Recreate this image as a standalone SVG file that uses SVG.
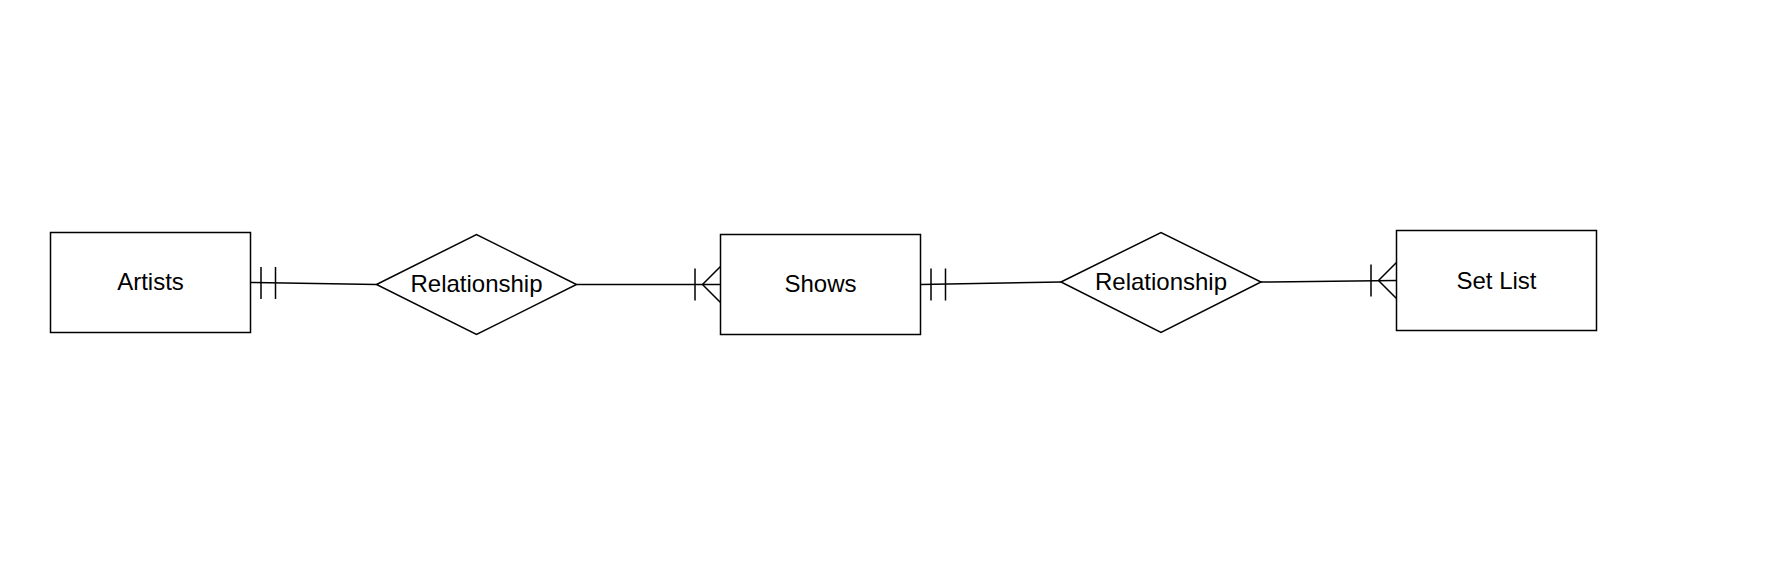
<svg xmlns="http://www.w3.org/2000/svg" width="1782" height="574" viewBox="0 0 1782 574">
<style>
.shape{fill:#fff;stroke:#000;stroke-width:1.5}
.lbl{font-family:"Liberation Sans",Arial,sans-serif;font-size:24px;fill:#000;text-anchor:middle}
.edge{fill:none;stroke:#000;stroke-width:1.5}
</style>
<rect width="1782" height="574" fill="#fff"/>
<g id="connectors">
  <!-- Artists -> Relationship 1 -->
  <path class="edge" d="M250.5 282.5 L376.5 284.5"/>
  <path class="edge" d="M261 267 V299 M275.5 267 V299"/>
  <!-- Relationship 1 -> Shows -->
  <path class="edge" d="M576.5 284.5 L720.5 284.5"/>
  <path class="edge" d="M695 268.5 V300.5 M720.5 266.5 L702.5 284.5 L720.5 302.5"/>
  <!-- Shows -> Relationship 2 -->
  <path class="edge" d="M920.5 284.5 L1061 282"/>
  <path class="edge" d="M931 268.5 V300.5 M945.5 268.5 V300.5"/>
  <!-- Relationship 2 -> Set List -->
  <path class="edge" d="M1261 282 L1396.5 280.5"/>
  <path class="edge" d="M1371 264.5 V296.5 M1396.5 262.5 L1378.5 280.5 L1396.5 298.5"/>
</g>
<g id="artists">
  <rect class="shape" x="50.5" y="232.5" width="200" height="100"/>
  <text class="lbl" x="150.5" y="289.5">Artists</text>
</g>
<g id="relationship1">
  <polygon class="shape" points="376.5,284.5 476.5,234.5 576.5,284.5 476.5,334.5"/>
  <text class="lbl" x="476.5" y="292">Relationship</text>
</g>
<g id="shows">
  <rect class="shape" x="720.5" y="234.5" width="200" height="100"/>
  <text class="lbl" x="820.5" y="292">Shows</text>
</g>
<g id="relationship2">
  <polygon class="shape" points="1061,282 1161,232.5 1261,282 1161,332.5"/>
  <text class="lbl" x="1161" y="289.5">Relationship</text>
</g>
<g id="setlist">
  <rect class="shape" x="1396.5" y="230.5" width="200" height="100"/>
  <text class="lbl" x="1496.5" y="288.5">Set List</text>
</g>
</svg>
